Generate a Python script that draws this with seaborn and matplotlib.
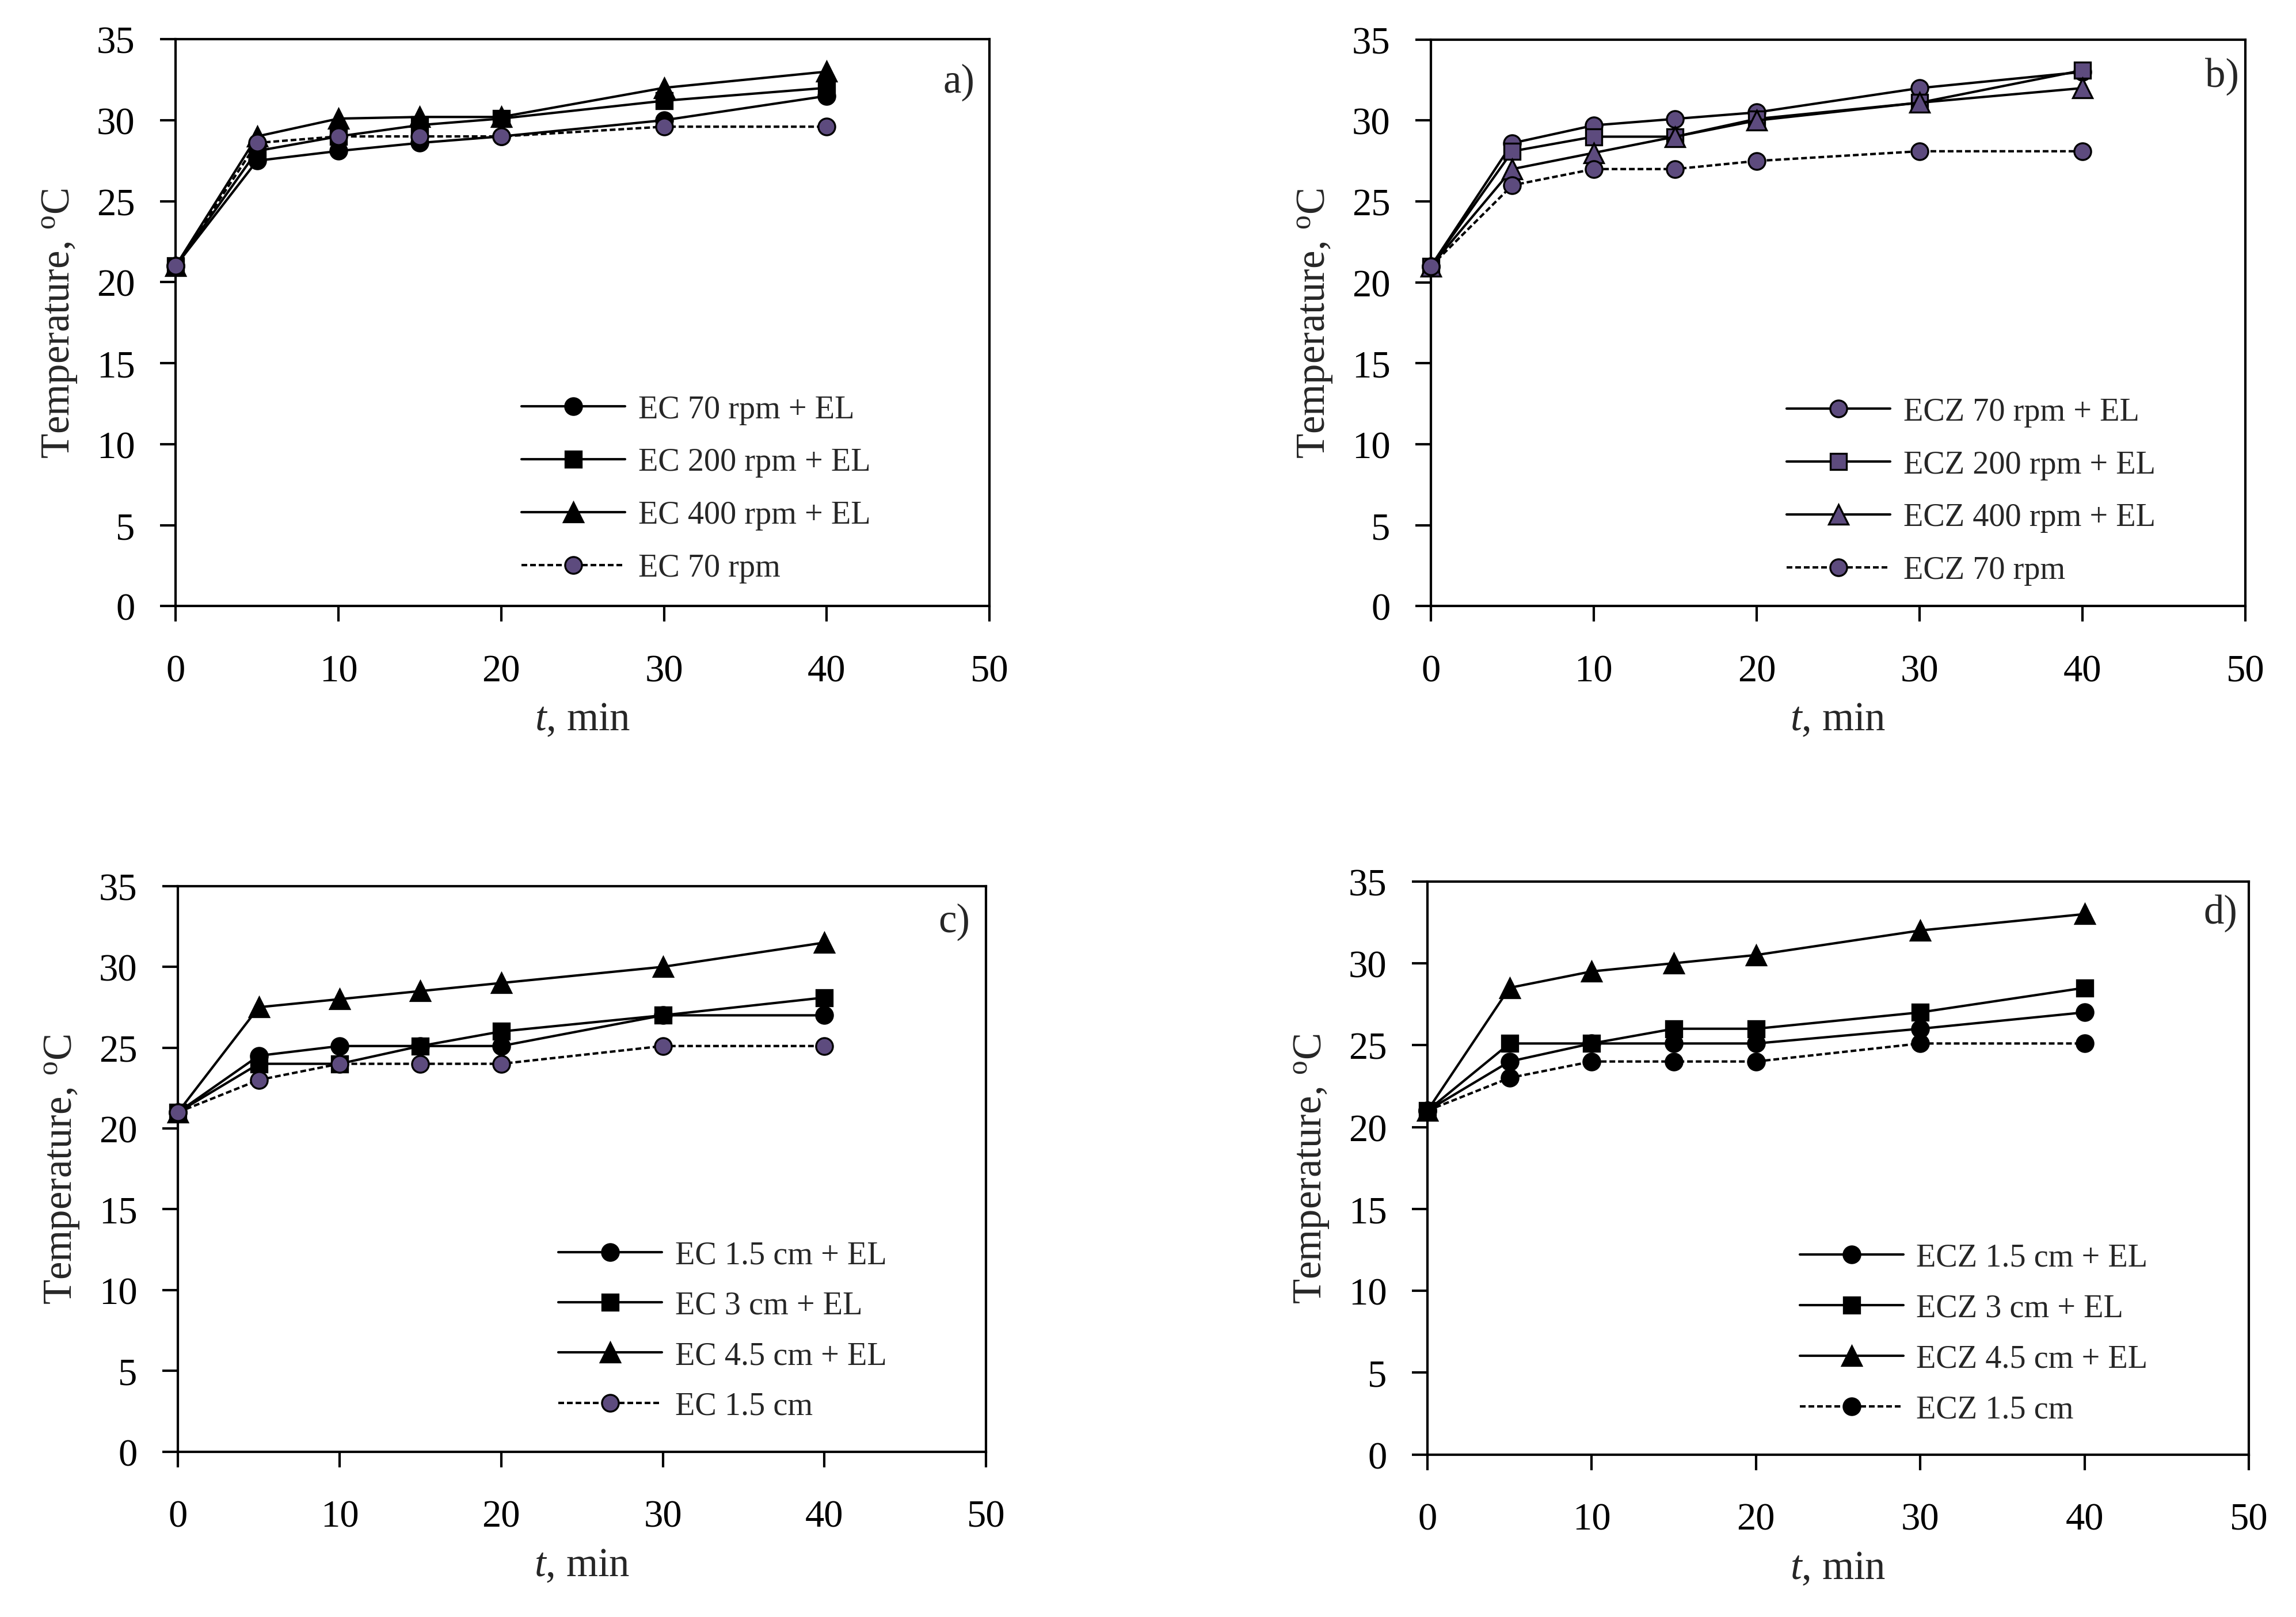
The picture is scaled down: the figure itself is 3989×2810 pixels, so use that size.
import matplotlib
matplotlib.use("Agg")
import matplotlib.pyplot as plt
import seaborn as sns

# ── DATA ──────────────────────────────────────────────────
t = [0, 5, 10, 15, 20, 30, 40]

# a) EC, stirring speed
a_labels = ["EC 70 rpm + EL", "EC 200 rpm + EL", "EC 400 rpm + EL", "EC 70 rpm"]
a_70_el = [21, 27.5, 28.1, 28.6, 29.0, 30.0, 31.5]
a_200_el = [21, 28.1, 29.0, 29.7, 30.1, 31.2, 32.0]
a_400_el = [21, 29.0, 30.1, 30.2, 30.2, 32.0, 33.0]
a_70 = [21, 28.6, 29.0, 29.0, 29.0, 29.6, 29.6]

# b) ECZ, stirring speed
b_labels = ["ECZ 70 rpm + EL", "ECZ 200 rpm + EL", "ECZ 400 rpm + EL", "ECZ 70 rpm"]
b_70_el = [21, 28.6, 29.7, 30.1, 30.5, 32.0, 33.0]
b_200_el = [21, 28.1, 29.0, 29.0, 30.1, 31.1, 33.1]
b_400_el = [21, 27.0, 28.0, 29.0, 30.0, 31.1, 32.0]
b_70 = [21, 26.0, 27.0, 27.0, 27.5, 28.1, 28.1]

# c) EC, electrode distance
c_labels = ["EC 1.5 cm + EL", "EC 3 cm + EL", "EC 4.5 cm + EL", "EC 1.5 cm"]
c_15_el = [21, 24.5, 25.1, 25.1, 25.1, 27.0, 27.0]
c_3_el = [21, 24.0, 24.0, 25.1, 26.0, 27.0, 28.1]
c_45_el = [21, 27.5, 28.0, 28.5, 29.0, 30.0, 31.5]
c_15 = [21, 23.0, 24.0, 24.0, 24.0, 25.1, 25.1]

# d) ECZ, electrode distance
d_labels = ["ECZ 1.5 cm + EL", "ECZ 3 cm + EL", "ECZ 4.5 cm + EL", "ECZ 1.5 cm"]
d_15_el = [21, 24.0, 25.1, 25.1, 25.1, 26.0, 27.0]
d_3_el = [21, 25.1, 25.1, 26.0, 26.0, 27.0, 28.5]
d_45_el = [21, 28.5, 29.5, 30.0, 30.5, 32.0, 33.0]
d_15 = [21, 23.0, 24.0, 24.0, 24.0, 25.1, 25.1]

# ── STYLE ─────────────────────────────────────────────────
sns.set_theme(style="white")
plt.rcParams["font.family"] = ["Liberation Serif", "DejaVu Serif"]
plt.rcParams["mathtext.fontset"] = "custom"
plt.rcParams["mathtext.rm"] = "Liberation Serif"
plt.rcParams["mathtext.it"] = "Liberation Serif:italic"

PURPLE = "#5D4B7E"
MARKERS = ["o", "s", "^", "o"]
MSIZE = {"o": 7.0, "s": 6.8, "^": 8.3}

fig = plt.figure(figsize=(3989 / 300, 2811 / 300), dpi=300)

panels = [
    # rect, series, labels, face colours, letter pos, legend anchor + spacing
    ([0.0765, 0.6249, 0.3545, 0.3505], [a_70_el, a_200_el, a_400_el, a_70], a_labels,
     ["black", "black", "black", PURPLE], ("a)", 0.982, 0.907), (0.425, 0.207, 0.71)),
    ([0.6232, 0.6249, 0.3547, 0.3503], [b_70_el, b_200_el, b_400_el, b_70], b_labels,
     [PURPLE] * 4, ("b)", 0.992, 0.918), (0.437, 0.203, 0.71)),
    ([0.0775, 0.1022, 0.3520, 0.3497], [c_15_el, c_3_el, c_45_el, c_15], c_labels,
     ["black", "black", "black", PURPLE], ("c)", 0.980, 0.920), (0.471, 0.214, 0.63)),
    ([0.6217, 0.1004, 0.3578, 0.3544], [d_15_el, d_3_el, d_45_el, d_15], d_labels,
     ["black"] * 4, ("d)", 0.986, 0.928), (0.453, 0.211, 0.64)),
]

for rect, series, labels, faces, (letter, tx, ty), (lx, ly, lsp) in panels:
    ax = fig.add_axes(rect)
    for i, (vals, lab, fc) in enumerate(zip(series, labels, faces)):
        ls = "-" if i < 3 else (0, (2.4, 1.2))
        m = MARKERS[i]
        sns.lineplot(x=t, y=vals, ax=ax, color="black", linewidth=1.0,
                     linestyle=ls, marker=m, markersize=MSIZE[m],
                     markerfacecolor=fc, markeredgecolor="black", markeredgewidth=0.8,
                     label=lab, clip_on=False, zorder=3 + i)
    ax.set_xlim(0, 50)
    ax.set_ylim(0, 35)
    ax.set_xticks(range(0, 51, 10))
    ax.set_yticks(range(0, 36, 5))
    for s in ax.spines.values():
        s.set_color("black")
        s.set_linewidth(1.0)
    ax.tick_params(axis="x", direction="out", length=6.4, width=1.0, pad=13.5,
                   labelsize=16, colors="black", bottom=True)
    ax.tick_params(axis="y", direction="out", length=6.4, width=1.0, pad=10.5,
                   labelsize=16, colors="black", left=True)

    w_px = rect[2] * 1568
    h_px = rect[3] * 1104.9
    ax.set_xlabel("$t$, min", fontsize=17)
    ax.xaxis.set_label_coords(0.5, -65.0 / h_px)
    ax.set_ylabel("Temperature, $^{\\mathrm{o}}$C", fontsize=17)
    ax.yaxis.set_label_coords(-66.0 / w_px, 0.5)

    ax.text(tx, ty, letter, transform=ax.transAxes, ha="right", va="baseline",
            fontsize=17)
    ax.legend(loc="center left", bbox_to_anchor=(lx, ly), frameon=False,
              borderpad=0, borderaxespad=0,
              fontsize=13.5, handlelength=3.2, handletextpad=0.4, labelspacing=lsp)

plt.savefig("out.png", dpi=300)
